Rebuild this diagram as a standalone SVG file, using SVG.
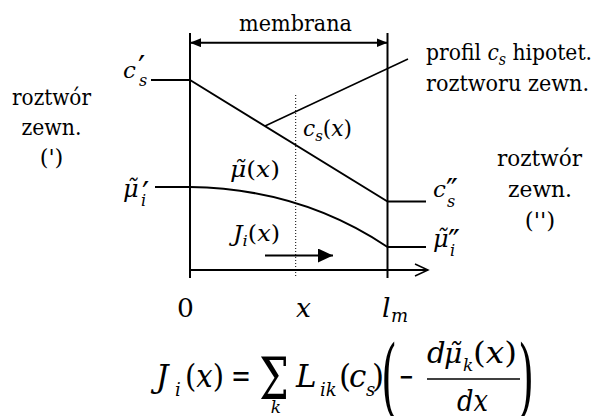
<svg xmlns="http://www.w3.org/2000/svg" width="597" height="416" viewBox="0 0 597 416">
<defs>
<marker id="arrF" viewBox="0 0 11 9" refX="11" refY="4.5" markerWidth="11" markerHeight="9" markerUnits="userSpaceOnUse" orient="auto-start-reverse"><path d="M0,0 L11,4.5 L0,9 z" fill="#000"/></marker>
<marker id="arrJ" viewBox="0 0 15 14" refX="15" refY="7" markerWidth="15" markerHeight="14" markerUnits="userSpaceOnUse" orient="auto"><path d="M0,0 L15,7 L0,14 z" fill="#000"/></marker>
</defs>
<rect width="597" height="416" fill="#fff"/>

<g id="connectors" stroke="#000" stroke-width="2" fill="none">
<line x1="190" y1="33" x2="190" y2="278"/>
<line x1="387.5" y1="33" x2="387.5" y2="278"/>
<line x1="190" y1="42.7" x2="387.5" y2="42.7" marker-start="url(#arrF)" marker-end="url(#arrF)"/>
<line x1="151" y1="80" x2="190" y2="80"/>
<line x1="190" y1="80" x2="387.5" y2="201.5"/>
<line x1="387.5" y1="201.5" x2="426" y2="201.5"/>
<line x1="265" y1="126" x2="408" y2="59" stroke-width="1.5"/>
<line x1="155" y1="187" x2="190" y2="187"/>
<path d="M190,187 C260,188 325,205 387.5,247"/>
<line x1="387.5" y1="247" x2="426" y2="247"/>
<line x1="295.7" y1="95" x2="295.7" y2="278" stroke-width="1" stroke-dasharray="1 2"/>
<line x1="265" y1="255.5" x2="333" y2="255.5" marker-end="url(#arrJ)"/>
<line x1="190" y1="270" x2="428" y2="270"/>
<polyline points="415,264 428,270 415,276" stroke-width="1.5"/>
</g>

<g id="membrana">
<text font-family="DejaVu Serif" x="239" y="31" font-size="23" textLength="113" lengthAdjust="spacingAndGlyphs">membrana</text>
</g>

<g id="left-solution">
<text font-family="DejaVu Serif" font-size="22.5" x="12" y="105" textLength="79" lengthAdjust="spacingAndGlyphs">roztwór</text>
<text font-family="DejaVu Serif" font-size="22.5" x="21.5" y="135" textLength="60" lengthAdjust="spacingAndGlyphs">zewn.</text>
<text font-family="DejaVu Serif" font-size="22.5" x="51.5" y="165" text-anchor="middle">(')</text>
</g>

<g id="right-solution">
<text font-family="DejaVu Serif" font-size="23" x="497" y="166" textLength="85" lengthAdjust="spacingAndGlyphs">roztwór</text>
<text font-family="DejaVu Serif" font-size="23" x="508" y="197" textLength="64" lengthAdjust="spacingAndGlyphs">zewn.</text>
<text font-family="DejaVu Serif" font-size="23" x="540" y="228" text-anchor="middle">('')</text>
</g>

<g id="hypothetical-label">
<text font-family="DejaVu Serif" font-size="23" x="426" y="60" textLength="166" lengthAdjust="spacingAndGlyphs">profil <tspan font-style="italic">c</tspan><tspan font-style="italic" font-size="16" dy="5">s</tspan><tspan dy="-5"> hipotet.</tspan></text>
<text font-family="DejaVu Serif" font-size="23" x="426" y="91" textLength="163" lengthAdjust="spacingAndGlyphs">roztworu zewn.</text>
</g>

<g id="cs-left">
<text font-family="DejaVu Serif" font-style="italic" font-size="23" x="123" y="78">c</text>
<text font-family="DejaVu Serif" font-size="32" x="138" y="78">′</text>
<text font-family="DejaVu Serif" font-style="italic" font-size="16" x="139" y="86">s</text>
</g>

<g id="mu-left">
<text font-family="DejaVu Serif" font-style="italic" font-size="24" x="123" y="197">μ̃</text>
<text font-family="DejaVu Serif" font-size="32" x="142" y="204">′</text>
<text font-family="DejaVu Serif" font-style="italic" font-size="16" x="141" y="206">i</text>
</g>

<g id="cs-right">
<text font-family="DejaVu Serif" font-style="italic" font-size="23" x="433" y="197">c</text>
<text font-family="DejaVu Serif" font-size="32" x="446" y="201">″</text>
<text font-family="DejaVu Serif" font-style="italic" font-size="16" x="447" y="207">s</text>
</g>

<g id="mu-right">
<text font-family="DejaVu Serif" font-style="italic" font-size="24" x="433" y="247">μ̃</text>
<text font-family="DejaVu Serif" font-size="32" x="448" y="252">″</text>
<text font-family="DejaVu Serif" font-style="italic" font-size="16" x="450" y="256">i</text>
</g>

<g id="cs-x">
<text font-family="DejaVu Serif" font-size="22" x="303" y="136" textLength="49" lengthAdjust="spacingAndGlyphs"><tspan font-style="italic">c</tspan><tspan font-style="italic" font-size="15" dy="5">s</tspan><tspan dy="-5">(</tspan><tspan font-style="italic">x</tspan>)</text>
</g>

<g id="mu-x">
<text font-family="DejaVu Serif" font-size="22" x="230" y="177" textLength="50" lengthAdjust="spacingAndGlyphs"><tspan font-style="italic">μ̃</tspan>(<tspan font-style="italic">x</tspan>)</text>
</g>

<g id="J-x">
<text font-family="DejaVu Serif" font-size="22" x="233" y="241" textLength="47" lengthAdjust="spacingAndGlyphs"><tspan font-style="italic">J</tspan><tspan font-style="italic" font-size="15" dy="5">i</tspan><tspan dy="-5">(</tspan><tspan font-style="italic">x</tspan>)</text>
</g>

<g id="axis-labels">
<text font-family="DejaVu Serif" font-size="26.5" x="185.5" y="317" text-anchor="middle">0</text>
<text font-family="DejaVu Serif" font-style="italic" font-size="26.5" x="303.5" y="317" text-anchor="middle">x</text>
<text font-family="DejaVu Serif" font-style="italic" font-size="26.5" x="382" y="317">l</text>
<text font-family="DejaVu Serif" font-style="italic" font-size="18" x="391" y="322">m</text>
</g>

<g id="formula">
<text font-family="DejaVu Serif" font-style="italic" font-size="31" x="156" y="387">J</text>
<text font-family="DejaVu Serif" font-style="italic" font-size="18" x="175" y="396">i</text>
<text font-family="DejaVu Serif" font-size="31" x="185" y="387" textLength="39" lengthAdjust="spacingAndGlyphs">(<tspan font-style="italic">x</tspan>)</text>
<text font-family="DejaVu Serif" font-size="31" x="231" y="387" textLength="20" lengthAdjust="spacingAndGlyphs">=</text>
<text font-family="DejaVu Serif" font-size="44" text-anchor="middle" transform="translate(274,399) scale(0.95,1.3)">Σ</text>
<text font-family="DejaVu Serif" font-style="italic" font-size="17" x="276" y="413" text-anchor="middle">k</text>
<text font-family="DejaVu Serif" font-style="italic" font-size="31" x="296" y="387">L</text>
<text font-family="DejaVu Serif" font-style="italic" font-size="18" x="320" y="396">ik</text>
<text font-family="DejaVu Serif" font-size="31" x="339" y="387">(</text>
<text font-family="DejaVu Serif" font-style="italic" font-size="31" x="349" y="387">c</text>
<text font-family="DejaVu Serif" font-style="italic" font-size="18" x="366" y="396">s</text>
<text font-family="DejaVu Serif" font-size="31" x="372" y="387">)</text>
<text font-family="DejaVu Serif" font-size="36" transform="translate(381,406.6) scale(1.15,2.4)">(</text>
<text font-family="DejaVu Serif" font-size="31" x="399" y="387" textLength="15" lengthAdjust="spacingAndGlyphs">−</text>
<text font-family="DejaVu Serif" font-style="italic" font-size="29" x="427" y="363">d</text>
<text font-family="DejaVu Serif" font-style="italic" font-size="28" x="444" y="363">μ̃</text>
<text font-family="DejaVu Serif" font-style="italic" font-size="17" x="463" y="371">k</text>
<text font-family="DejaVu Serif" font-size="29" x="473" y="363" textLength="44" lengthAdjust="spacingAndGlyphs">(<tspan font-style="italic">x</tspan>)</text>
<line x1="427" y1="379" x2="520" y2="379" stroke="#000" stroke-width="1.5"/>
<text font-family="DejaVu Serif" font-style="italic" font-size="29" x="457" y="411" textLength="31" lengthAdjust="spacingAndGlyphs">dx</text>
<text font-family="DejaVu Serif" font-size="36" transform="translate(518,406.6) scale(1.15,2.4)">)</text>
</g>
</svg>
